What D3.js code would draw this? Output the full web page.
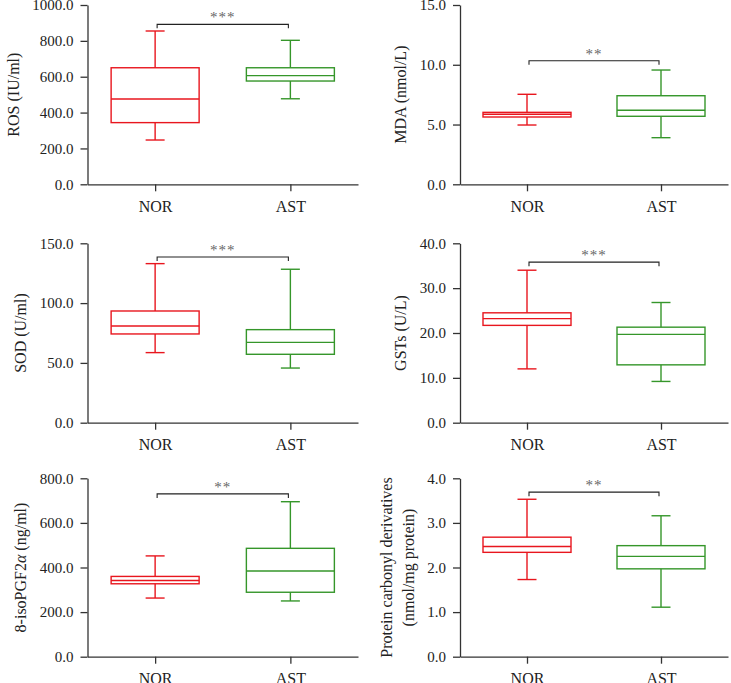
<!DOCTYPE html>
<html>
<head>
<meta charset="utf-8">
<script src="https://cdn.jsdelivr.net/npm/d3@7"></script>
<style>
  body { margin: 0; background: #fff; }
  svg text { font-family: "Liberation Serif", "DejaVu Serif", serif; }
</style>
</head>
<body>
<div class="container"></div>
<script>
// data: [min, q1, median, q3, max]
const groups = ["NOR", "AST"];
const yTitles = [
  ["ROS (IU/ml)"],
  ["MDA (nmol/L)"],
  ["SOD (U/ml)"],
  ["GSTs (U/L)"],
  ["8-isoPGF2α (ng/ml)"],
  ["Protein carbonyl derivatives", "(nmol/mg protein)"]
];
const yMax = [1000, 15, 150, 40, 800, 4];
const yStep = [200, 5, 50, 10, 200, 1];
const norStats = [
  [247, 344, 476, 650, 855],
  [4.96, 5.63, 5.86, 6.02, 7.53],
  [58.6, 74.2, 80.9, 93.4, 133.0],
  [12.0, 21.7, 23.2, 24.5, 34.0],
  [263, 327, 342, 360, 452],
  [1.73, 2.34, 2.47, 2.68, 3.53]
];
const astStats = [
  [477, 576, 606, 650, 803],
  [3.90, 5.69, 6.19, 7.41, 9.56],
  [45.7, 57.2, 67.2, 77.8, 128.3],
  [9.2, 12.9, 19.7, 21.3, 26.8],
  [250, 289, 384, 486, 695],
  [1.11, 1.97, 2.25, 2.49, 3.16]
];
const sigLabels = ["***", "**", "***", "***", "**", "**"];
const sigLevel = [892, 10.34, 138.6, 35.8, 730, 3.69];

// layout
const COLS = [{ x0: 87.5, x1: 358 }, { x0: 460, x1: 728 }];
const ROWS = [{ y0: 5, y1: 184.3 }, { y0: 243.3, y1: 422.7 }, { y0: 478.3, y1: 656.7 }];
const COLORS = { NOR: "#e8161e", AST: "#35962a" };
const AXIS_COLOR = "#333";
const BOX_WIDTH = 88;
const CAP_WIDTH = 19;

const svg = d3.select(".container")
  .append("svg")
  .attr("width", 731)
  .attr("height", 683)
  .attr("viewBox", [0, 0, 731, 683]);

yTitles.forEach((title, i) => {
  const col = COLS[i % 2], row = ROWS[Math.floor(i / 2)];
  drawPanel(i, col, row);
});

function drawPanel(i, col, row) {
  const g = svg.append("g");
  const x = d3.scalePoint().domain(groups).range([col.x0, col.x1]).padding(0.5);
  const y = d3.scaleLinear().domain([0, yMax[i]]).range([row.y1, row.y0]);

  // boxes
  const stats = { NOR: norStats[i], AST: astStats[i] };
  groups.forEach((grp) => {
    const [mn, q1, med, q3, mx] = stats[grp];
    const cx = x(grp);
    const bg = g.append("g")
      .attr("stroke", COLORS[grp])
      .attr("stroke-width", 1.4)
      .attr("fill", "none");
    bg.append("line").attr("x1", cx).attr("x2", cx).attr("y1", y(mx)).attr("y2", y(q3));
    bg.append("line").attr("x1", cx).attr("x2", cx).attr("y1", y(q1)).attr("y2", y(mn));
    bg.append("line").attr("x1", cx - CAP_WIDTH / 2).attr("x2", cx + CAP_WIDTH / 2).attr("y1", y(mx)).attr("y2", y(mx));
    bg.append("line").attr("x1", cx - CAP_WIDTH / 2).attr("x2", cx + CAP_WIDTH / 2).attr("y1", y(mn)).attr("y2", y(mn));
    bg.append("rect")
      .attr("x", cx - BOX_WIDTH / 2)
      .attr("y", y(q3))
      .attr("width", BOX_WIDTH)
      .attr("height", y(q1) - y(q3));
    bg.append("line").attr("x1", cx - BOX_WIDTH / 2).attr("x2", cx + BOX_WIDTH / 2).attr("y1", y(med)).attr("y2", y(med));
  });

  // significance bracket
  const by = y(sigLevel[i]);
  const bx0 = x("NOR") + 2, bx1 = x("AST") - 2;
  g.append("path")
    .attr("d", `M${bx0},${by + 4}V${by}H${bx1}V${by + 4}`)
    .attr("fill", "none")
    .attr("stroke", "#222")
    .attr("stroke-width", 1.1);
  g.append("text")
    .attr("x", (bx0 + bx1) / 2)
    .attr("y", by - 2)
    .attr("text-anchor", "middle")
    .attr("font-size", 15)
    .attr("letter-spacing", 1)
    .attr("fill", "#666")
    .text(sigLabels[i]);

  // axes
  const yAxis = g.append("g")
    .attr("transform", `translate(${col.x0},0)`)
    .call(d3.axisLeft(y).tickValues(d3.range(0, yMax[i] + yStep[i] / 2, yStep[i]))
      .tickFormat(d3.format(".1f")).tickSize(7).tickSizeOuter(0).tickPadding(7));
  yAxis.selectAll("text").attr("font-size", 15).attr("fill", "#222")
    .attr("font-family", "Liberation Serif");
  yAxis.selectAll("line,path").attr("stroke", AXIS_COLOR).attr("stroke-width", 1.3);

  const xAxis = g.append("g")
    .attr("transform", `translate(0,${row.y1})`)
    .call(d3.axisBottom(x).tickSize(7).tickSizeOuter(0).tickPadding(9));
  xAxis.selectAll("text").attr("font-size", 16).attr("fill", "#222")
    .attr("font-family", "Liberation Serif");
  xAxis.selectAll("line,path").attr("stroke", AXIS_COLOR).attr("stroke-width", 1.3);

  // y title, placed left of the tick labels
  const left = yAxis.node().getBBox().x + col.x0;
  const lines = yTitles[i];
  const cy = (row.y0 + row.y1) / 2;
  lines.forEach((line, k) => {
    const cx = left - 19 - (lines.length - 1 - k) * 22;
    const t = g.append("text")
      .attr("transform", `translate(${cx + 5.5},${cy}) rotate(-90)`)
      .attr("text-anchor", "middle")
      .attr("font-size", 16)
      .attr("fill", "#222");
    // greek letters are set in italic
    line.split(/(α)/).filter((s) => s).forEach((part) => {
      t.append("tspan")
        .attr("font-style", part === "α" ? "italic" : null)
        .text(part);
    });
  });
}
</script>
</body>
</html>
